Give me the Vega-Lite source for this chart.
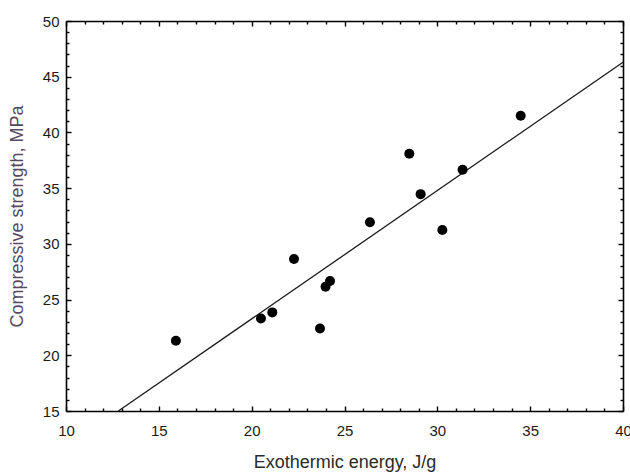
{
  "$schema": "https://vega.github.io/schema/vega-lite/v6.json",
  "autosize": "none",
  "width": 557,
  "height": 390,
  "padding": {"left": 66, "top": 21, "right": 7, "bottom": 61},
  "background": "white",
  "config": {
    "view": {"stroke": null},
    "axis": {
      "domainColor": "#000",
      "domainWidth": 1.6,
      "tickColor": "#000",
      "tickWidth": 1.4,
      "grid": false,
      "labelFont": "Liberation Sans",
      "labelFontSize": 15,
      "labelColor": "#1a1a1a",
      "titleFont": "Liberation Sans",
      "titleFontSize": 18,
      "titleFontWeight": "normal"
    }
  },
  "datasets": {
    "pts": [
      {"energy": 15.92, "strength": 21.3},
      {"energy": 20.5, "strength": 23.3},
      {"energy": 21.11, "strength": 23.85},
      {"energy": 22.28, "strength": 28.64},
      {"energy": 23.68, "strength": 22.41},
      {"energy": 23.98, "strength": 26.15},
      {"energy": 24.22, "strength": 26.66},
      {"energy": 26.37, "strength": 31.94},
      {"energy": 28.49, "strength": 38.08},
      {"energy": 29.1, "strength": 34.46},
      {"energy": 30.27, "strength": 31.25},
      {"energy": 31.36, "strength": 36.65},
      {"energy": 34.49, "strength": 41.5}
    ],
    "fit": [
      {"energy": 12.82, "strength": 15},
      {"energy": 40, "strength": 46.3}
    ]
  },
  "layer": [
    {
      "data": {"name": "fit"},
      "mark": {"type": "line", "color": "#1a1a1a", "strokeWidth": 1.3},
      "encoding": {
        "x": {
          "field": "energy", "type": "quantitative",
          "scale": {"domain": [10, 40], "nice": false, "zero": false},
          "axis": {
            "orient": "top", "labels": false, "title": null,
            "values": [10,11,12,13,14,15,16,17,18,19,20,21,22,23,24,25,26,27,28,29,30,31,32,33,34,35,36,37,38,39,40],
            "tickSize": {"condition": {"test": "datum.value % 5 === 0", "value": -5}, "value": -3}
          }
        },
        "y": {
          "field": "strength", "type": "quantitative",
          "scale": {"domain": [15, 50], "nice": false, "zero": false},
          "axis": {
            "orient": "right", "labels": false, "title": null,
            "values": [15,16,17,18,19,20,21,22,23,24,25,26,27,28,29,30,31,32,33,34,35,36,37,38,39,40,41,42,43,44,45,46,47,48,49,50],
            "tickSize": {"condition": {"test": "datum.value % 5 === 0", "value": -5}, "value": -3}
          }
        }
      }
    },
    {
      "data": {"name": "pts"},
      "mark": {"type": "circle", "color": "#000", "opacity": 1, "size": 100},
      "encoding": {
        "x": {
          "field": "energy", "type": "quantitative",
          "axis": {
            "orient": "bottom",
            "title": "Exothermic energy, J/g",
            "titleColor": "#2a2a2a",
            "titleX": 278.5, "titleY": 56, "titleBaseline": "alphabetic", "titleAlign": "center",
            "values": [10,11,12,13,14,15,16,17,18,19,20,21,22,23,24,25,26,27,28,29,30,31,32,33,34,35,36,37,38,39,40],
            "labelExpr": "datum.value % 5 === 0 ? datum.label : ''",
            "labelPadding": 17,
            "labelFlush": false,
            "labelOverlap": false,
            "tickSize": {"condition": {"test": "datum.value % 5 === 0", "value": -5}, "value": -3}
          }
        },
        "y": {
          "field": "strength", "type": "quantitative",
          "axis": {
            "orient": "left",
            "title": "Compressive strength, MPa",
            "titleColor": "#57495f",
            "titleX": -48.5, "titleY": 195, "titleAngle": -90, "titleBaseline": "middle", "titleAlign": "center",
            "values": [15,16,17,18,19,20,21,22,23,24,25,26,27,28,29,30,31,32,33,34,35,36,37,38,39,40,41,42,43,44,45,46,47,48,49,50],
            "labelExpr": "datum.value % 5 === 0 ? datum.label : ''",
            "labelPadding": 12,
            "labelFlush": false,
            "labelOverlap": false,
            "tickSize": {"condition": {"test": "datum.value % 5 === 0", "value": -5}, "value": -3}
          }
        }
      }
    }
  ],
  "resolve": {"axis": {"x": "independent", "y": "independent"}}
}
